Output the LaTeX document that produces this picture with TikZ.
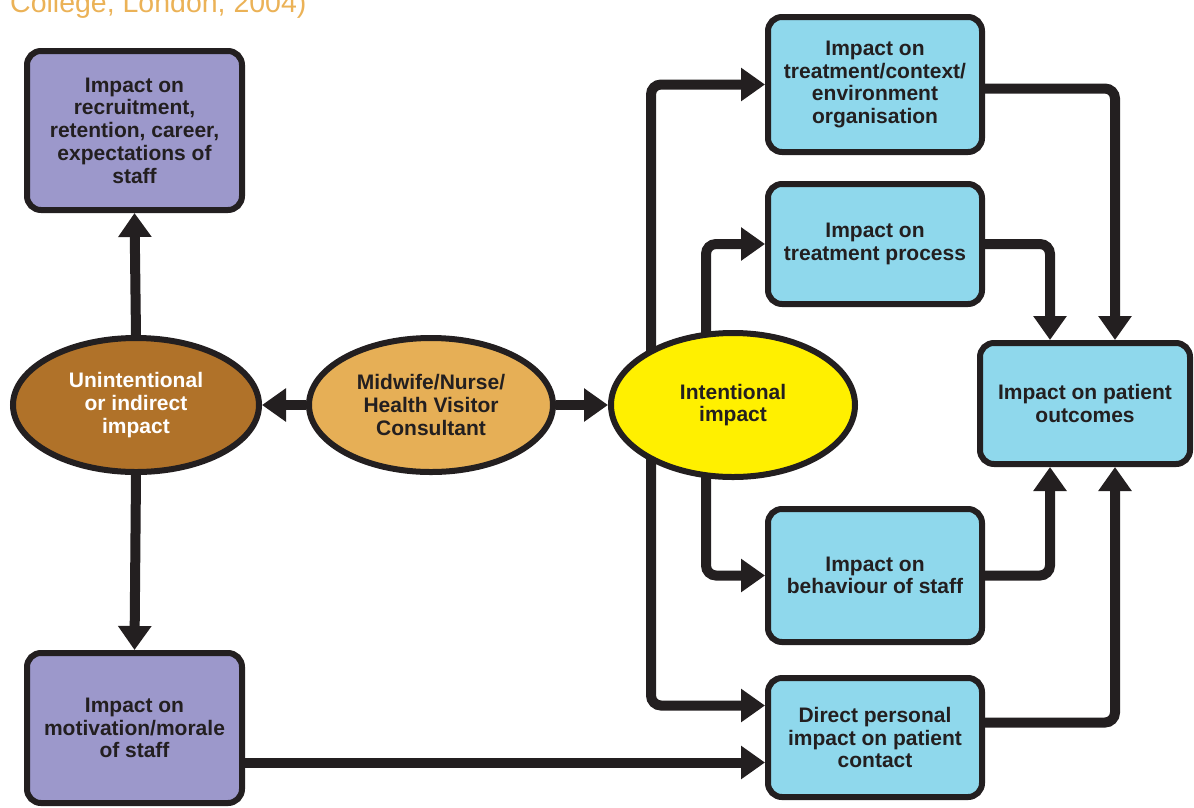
\documentclass[tikz,border=0pt]{standalone}
\usepackage{fontspec}
\setmainfont{Liberation Sans}
\usetikzlibrary{arrows.meta,shapes.geometric,backgrounds}
\definecolor{ink}{HTML}{231F20}
\definecolor{lav}{HTML}{9C98CB}
\definecolor{sky}{HTML}{8FD8EC}
\definecolor{ubrown}{HTML}{B07229}
\definecolor{utan}{HTML}{E6AF56}
\definecolor{yel}{HTML}{FFF000}
\definecolor{titleor}{HTML}{EBB257}
\begin{document}
\begin{tikzpicture}[x=1pt,y=-1pt,
  lbl/.style={font=\bfseries\fontsize{21}{22.7}\selectfont, text=ink, align=center, inner sep=0pt},
  box/.style={lbl, draw=ink, line width=6pt, rounded corners=14pt},
  oval/.style={lbl, ellipse, draw=ink, line width=6pt},
  conn/.style={draw=ink, line width=10pt, rounded corners=10pt, -{Triangle[length=24pt,width=32pt]}}]
\useasboundingbox (0,0) rectangle (1194,807);
\node[anchor=base west, text=titleor, font=\fontsize{28.5}{30}\selectfont, inner sep=0pt] (title) at (10,12) {College, London, 2004)};

\node[box, fill=lav, minimum width=215pt, minimum height=159pt] (A) at (134.5,130.5) {Impact on\\recruitment,\\retention, career,\\expectations of\\staff};
\node[box, fill=lav, minimum width=215pt, minimum height=150pt] (B) at (134.5,728) {Impact on\\motivation/morale\\of staff};
\node[oval, fill=ubrown, text=white, minimum width=246pt, minimum height=134pt] (U) at (136,405) {Unintentional\\or indirect\\impact};
\node[oval, fill=utan, minimum width=244pt, minimum height=134pt] (M) at (431,405) {Midwife/Nurse/\\Health Visitor\\Consultant};
\node[oval, fill=yel, minimum width=244pt, minimum height=144pt] (I) at (733,405) {Intentional\\impact};
\node[box, fill=sky, minimum width=214pt, minimum height=135pt] (T1) at (875,84.5) {Impact on\\treatment/context/\\environment\\organisation};
\node[box, fill=sky, minimum width=214pt, minimum height=120pt] (T2) at (875,244) {Impact on\\treatment process};
\node[box, fill=sky, minimum width=210pt, minimum height=121pt] (O) at (1085,403.5) {Impact on patient\\outcomes};
\node[box, fill=sky, minimum width=214pt, minimum height=133pt] (Bh) at (875,575.5) {Impact on\\behaviour of staff};
\node[box, fill=sky, minimum width=214pt, minimum height=119pt] (D) at (875,737.5) {Direct personal\\impact on patient\\contact};

\coordinate (xL) at (651,0);
\coordinate (xR) at (706,0);
\coordinate (xa) at (1050,0);
\coordinate (xb) at (1115,0);
\coordinate (Dup) at ([yshift=32pt]D.west);
\coordinate (Dlow) at ([yshift=-25pt]D.west);

\draw[conn] (U.north) -- (A.south);
\draw[conn] (U.south) -- (B.north);
\draw[conn] (M.west) -- (U.east);
\draw[conn] (M.east) -- (I.west);
\draw[conn] (B.east |- Dlow) -- (Dlow);
\begin{scope}[on background layer]
\draw[conn] (I.center -| xL) |- (T1.west);
\draw[conn] (I.center -| xR) |- (T2.west);
\draw[conn] (I.center -| xR) |- (Bh.west);
\draw[conn] (I.center -| xL) |- (Dup);
\end{scope}
\draw[conn] ([yshift=-4pt]T1.east) -| (O.north -| xb);
\draw[conn] (T2.east) -| (O.north -| xa);
\draw[conn] (Bh.east) -| (O.south -| xa);
\draw[conn] ([yshift=15pt]D.east) -| (O.south -| xb);
\end{tikzpicture}
\end{document}
